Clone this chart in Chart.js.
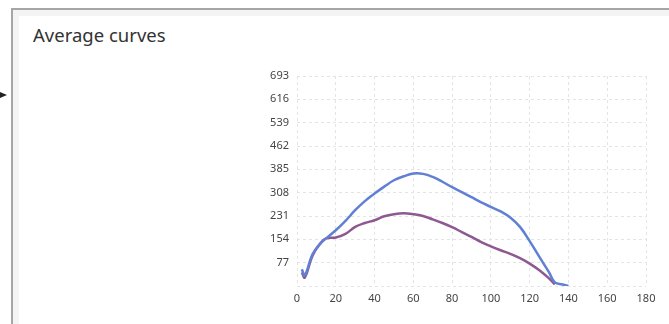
<!DOCTYPE html>
<html>
<head>
<meta charset="utf-8">
<script src="https://cdn.jsdelivr.net/npm/chart.js@4.4.0/dist/chart.umd.min.js"></script>
<style>
  body { margin: 0; background: #fff; font-family: "Noto Sans", sans-serif; }
  #card {
    position: absolute; left: 11px; top: 8px; width: 720px; height: 340px;
    border-left: 2px solid #a6a6a6; border-top: 2px solid #a6a6a6;
    box-shadow: inset 6px 6px 0 #f4f4f4;
    background: #fff;
  }
  #title { position: absolute; left: 33px; top: 22px; font-size: 18.5px; color: #333; }
  #arrow { position: absolute; left: 0; top: 92px; width: 0; height: 0;
    border-left: 7px solid #222; border-top: 3px solid transparent; border-bottom: 3px solid transparent; }
  #wrap { position: absolute; left: 0; top: 0; width: 669px; height: 324px; }
</style>
</head>
<body>
<div id="card"></div>
<div id="arrow"></div>
<div id="title">Average curves</div>
<div id="wrap"><canvas id="avgChart"></canvas></div>
<script>
// Average curves
const xs = [2.5, 4, 8, 12, 15, 20, 25, 30, 35, 40, 45, 50, 55, 60, 65, 70, 75, 80, 85, 90, 95, 100, 105, 110, 115, 120, 125, 130, 133, 137, 140];
const blueValues = [55, 35, 105, 140, 157, 184, 215, 250, 280, 305, 328, 349, 362, 371, 370, 360, 344, 326, 310, 293, 276, 261, 246, 226, 195, 148, 96, 45, 12, 5, 0];
const purpleValues = [45, 28, 100, 140, 157, 160, 172, 195, 208, 217, 230, 237, 240, 237, 231, 220, 208, 194, 178, 162, 145, 131, 118, 106, 92, 74, 52, 25, 5, null, null];
const yMax = 693;
const yStep = 77;

function toPoints(values) {
    return xs.map((x, i) => ({ x: x, y: values[i] })).filter(p => p.y !== null);
}

const ctx = document.getElementById('avgChart').getContext('2d');
new Chart(ctx, {
    type: 'line',
    data: {
        datasets: [{
            label: 'Curve A',
            data: toPoints(blueValues),
            borderColor: 'rgb(96, 128, 212)',
            borderWidth: 2.5,
            pointRadius: 0,
            fill: false,
            tension: 0.4
        },
        {
            label: 'Curve B',
            data: toPoints(purpleValues),
            borderColor: 'rgb(142, 88, 146)',
            borderWidth: 2.5,
            pointRadius: 0,
            fill: false,
            tension: 0.4
        }]
    },
    options: {
        responsive: true,
        maintainAspectRatio: false,
        animation: false,
        layout: { padding: { left: 257, right: 23, top: 76, bottom: 0 } },
        plugins: { legend: { display: false }, tooltip: { enabled: false } },
        scales: {
            x: {
                type: 'linear', min: 0, max: 180,
                afterFit: function(scale) { scale.height = 38; },
                border: { display: false, dash: [3, 3] },
                grid: { color: '#e4e4e4', drawTicks: false },
                ticks: { stepSize: 20, padding: 6, color: '#444', font: { family: 'Noto Sans', size: 11 } }
            },
            y: {
                min: 0, max: yMax,
                afterFit: function(scale) { scale.width = 40; },
                border: { display: false, dash: [3, 3] },
                grid: { color: '#e4e4e4', drawTicks: false },
                ticks: {
                    stepSize: yStep, padding: 8, color: '#444',
                    font: { family: 'Noto Sans', size: 11 },
                    callback: function(value) { return value === 0 ? '' : value; }
                }
            }
        }
    }
});
</script>
</body>
</html>
